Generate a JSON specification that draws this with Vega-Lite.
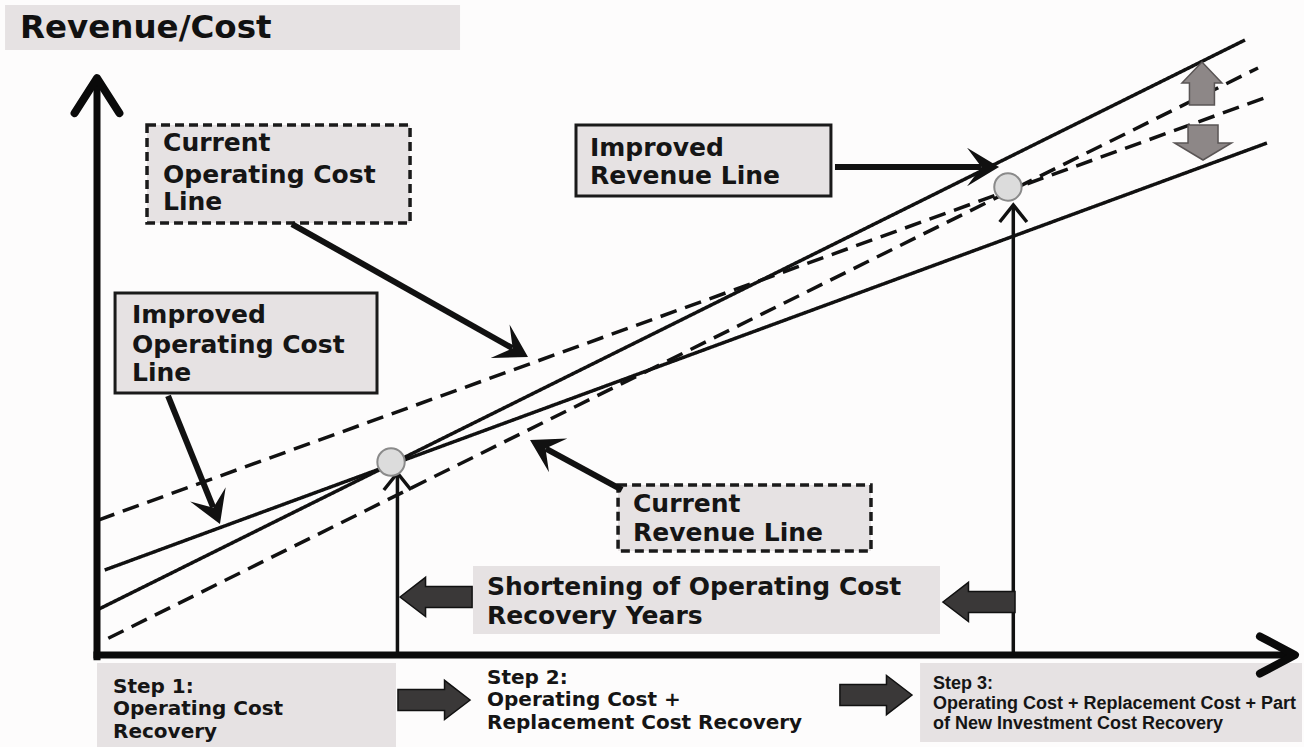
{
  "$schema": "https://vega.github.io/schema/vega-lite/v6.json",
  "width": 1304,
  "height": 747,
  "autosize": {"type": "none"},
  "padding": 0,
  "background": "#fdfcfc",
  "config": {"view": {"stroke": null}},
  "resolve": {"scale": {"shape": "independent", "strokeDash": "independent"}},
  "datasets": {
    "boxes": [
      {"name": "title", "border": "none", "x": -7.74, "x2": 30.56, "y": 114.04, "y2": 106.14},
      {"name": "Current Operating Cost", "border": "dashed", "x": 4.21, "x2": 26.35, "y": 92.98, "y2": 75.79},
      {"name": "Improved Operating Cost", "border": "solid", "x": 1.52, "x2": 23.57, "y": 63.51, "y2": 45.96},
      {"name": "Improved Revenue", "border": "solid", "x": 40.32, "x2": 61.78, "y": 92.98, "y2": 80.53},
      {"name": "Current Revenue", "border": "dashed", "x": 43.86, "x2": 65.15, "y": 29.82, "y2": 18.25},
      {"name": "Shortening", "border": "none", "x": 31.65, "x2": 70.96, "y": 15.61, "y2": 3.68},
      {"name": "Step 1", "border": "none", "x": 0, "x2": 25.17, "y": -1.4, "y2": -16.14},
      {"name": "Step 3", "border": "none", "x": 69.28, "x2": 101.43, "y": -1.4, "y2": -15.26}
    ],
    "lines": [
      {"series": "Current Operating Cost", "status": "Current", "x": 0.11, "y": 23.68},
      {"series": "Current Operating Cost", "status": "Current", "x": 98.48, "y": 97.89},
      {"series": "Improved Operating Cost", "status": "Improved", "x": 0.65, "y": 14.91},
      {"series": "Improved Operating Cost", "status": "Improved", "x": 98.48, "y": 89.82},
      {"series": "Improved Revenue", "status": "Improved", "x": 0, "y": 7.89},
      {"series": "Improved Revenue", "status": "Improved", "x": 96.63, "y": 107.89},
      {"series": "Current Revenue", "status": "Current", "x": 0.95, "y": 2.93},
      {"series": "Current Revenue", "status": "Current", "x": 97.73, "y": 102.98}
    ],
    "axes": [
      {"axis": "y", "x": 0, "y": -0.9, "x2": 0, "y2": 101.2},
      {"axis": "x", "x": -0.3, "y": 0, "x2": 100.84, "y2": 0}
    ],
    "axisTips": [
      {"dir": "up", "x": 0, "y": 101.2},
      {"dir": "right", "x": 100.84, "y": 0}
    ],
    "verticals": [
      {"step": "Operating Cost Recovery", "x": 25.29, "y": 0, "y2": 31.93},
      {"step": "New Investment Recovery", "x": 77.13, "y": 0, "y2": 78.95}
    ],
    "points": [
      {"step": "Operating Cost Recovery", "x": 24.75, "y": 33.86},
      {"step": "New Investment Recovery", "x": 76.68, "y": 82.11}
    ],
    "pointers": [
      {"id": "cur_cost", "x": 16.41, "y": 75.61, "x2": 34.96, "y2": 53.82, "hx": 36.28, "hy": 52.28},
      {"id": "imp_cost", "x": 5.98, "y": 45.44, "x2": 9.78, "y2": 25.91, "hx": 10.35, "hy": 22.98},
      {"id": "imp_rev", "x": 62.12, "y": 85.61, "x2": 74.41, "y2": 85.61, "hx": 75.93, "hy": 85.61},
      {"id": "cur_rev", "x": 44.19, "y": 28.95, "x2": 37.78, "y2": 36.21, "hx": 36.45, "hy": 37.72}
    ],
    "blocks": [
      {"dir": "left", "x": 28.54, "y": 10.18},
      {"dir": "left", "x": 74.24, "y": 9.3},
      {"dir": "right", "x": 28.37, "y": -7.89},
      {"dir": "right", "x": 65.57, "y": -7.02}
    ],
    "gaps": [
      {"dir": "up", "x": 93.01, "y": 100.26},
      {"dir": "down", "x": 93.1, "y": 89.91}
    ],
    "title": [
      {"t": "Revenue/Cost", "x": -6.48, "y": 110.0}
    ],
    "labels": [
      {"t": "Current", "x": 5.56, "y": 89.82},
      {"t": "Operating Cost", "x": 5.56, "y": 84.21},
      {"t": "Line", "x": 5.56, "y": 79.47},
      {"t": "Improved", "x": 2.95, "y": 59.65},
      {"t": "Operating Cost", "x": 2.95, "y": 54.39},
      {"t": "Line", "x": 2.95, "y": 49.47},
      {"t": "Improved", "x": 41.5, "y": 88.95},
      {"t": "Revenue Line", "x": 41.5, "y": 84.04},
      {"t": "Current", "x": 45.12, "y": 26.49},
      {"t": "Revenue Line", "x": 45.12, "y": 21.4},
      {"t": "Shortening of Operating Cost", "x": 32.83, "y": 11.93},
      {"t": "Recovery Years", "x": 32.83, "y": 6.84}
    ],
    "steps": [
      {"t": "Step 1:", "x": 1.35, "y": -5.61},
      {"t": "Operating Cost", "x": 1.35, "y": -9.47},
      {"t": "Recovery", "x": 1.35, "y": -13.51},
      {"t": "Step 2:", "x": 32.83, "y": -4.04},
      {"t": "Operating Cost +", "x": 32.83, "y": -7.98},
      {"t": "Replacement Cost Recovery", "x": 32.83, "y": -11.93}
    ],
    "step3": [
      {"t": "Step 3:", "x": 70.37, "y": -5.09},
      {"t": "Operating Cost + Replacement Cost + Part", "x": 70.37, "y": -8.6},
      {"t": "of New Investment Cost Recovery", "x": 70.37, "y": -12.11}
    ]
  },
  "encoding": {
    "x": {"field": "x", "type": "quantitative", "scale": {"domain": [-8.165, 101.6], "nice": false, "zero": false}, "axis": null},
    "y": {"field": "y", "type": "quantitative", "scale": {"domain": [-16.14, 114.91], "nice": false, "zero": false}, "axis": null}
  },
  "layer": [
    {
      "data": {"name": "boxes"},
      "mark": {"type": "rect", "fill": "#e6e2e3", "stroke": null},
      "encoding": {"x2": {"field": "x2"}, "y2": {"field": "y2"}}
    },
    {
      "data": {"name": "boxes"},
      "transform": [{"filter": "datum.border === 'solid'"}],
      "mark": {"type": "rect", "fill": null, "fillOpacity": 0, "stroke": "#1a1a1a", "strokeWidth": 3},
      "encoding": {"x2": {"field": "x2"}, "y2": {"field": "y2"}}
    },
    {
      "data": {"name": "boxes"},
      "transform": [{"filter": "datum.border === 'dashed'"}],
      "mark": {"type": "rect", "fill": null, "fillOpacity": 0, "stroke": "#1a1a1a", "strokeWidth": 3.5, "strokeDash": [9, 5]},
      "encoding": {"x2": {"field": "x2"}, "y2": {"field": "y2"}}
    },
    {
      "data": {"name": "lines"},
      "mark": {"type": "line", "color": "#111111", "strokeWidth": 3.5},
      "encoding": {
        "detail": {"field": "series"},
        "strokeDash": {"field": "status", "type": "nominal", "scale": {"domain": ["Current", "Improved"], "range": [[17, 9], [1, 0]]}, "legend": null}
      }
    },
    {
      "data": {"name": "verticals"},
      "mark": {"type": "rule", "color": "#111111", "strokeWidth": 3.5},
      "encoding": {"y2": {"field": "y2"}}
    },
    {
      "data": {"name": "verticals"},
      "mark": {"type": "point", "shape": "M-0.8,1 L0,0 L0.8,1", "filled": false, "stroke": "#111111", "strokeWidth": 3.5, "size": 1156, "opacity": 1},
      "encoding": {"y": {"field": "y2", "type": "quantitative"}}
    },
    {
      "data": {"name": "axes"},
      "mark": {"type": "rule", "color": "#0a0a0a", "strokeWidth": 7},
      "encoding": {"x2": {"field": "x2"}, "y2": {"field": "y2"}}
    },
    {
      "data": {"name": "axisTips"},
      "mark": {"type": "point", "filled": false, "stroke": "#0a0a0a", "strokeWidth": 8, "opacity": 1, "size": 4900, "strokeJoin": "round", "strokeCap": "round"},
      "encoding": {
        "shape": {"field": "dir", "type": "nominal", "scale": {"domain": ["up", "right"], "range": ["M-0.64,1 L0,0 L0.64,1", "M-1,-0.53 L0,0 L-1,0.53"]}, "legend": null}
      }
    },
    {
      "data": {"name": "pointers"},
      "mark": {"type": "rule", "color": "#111111", "strokeWidth": 6},
      "encoding": {"x2": {"field": "x2"}, "y2": {"field": "y2"}}
    },
    {
      "data": {"name": "pointers"},
      "transform": [{"filter": "datum.id === 'cur_cost'"}],
      "mark": {"type": "point", "shape": "M0,0 L-1,-0.6 L-0.55,0 L-1,0.6 Z", "filled": true, "color": "#111111", "opacity": 1, "size": 4096, "angle": 29.4},
      "encoding": {"x": {"field": "hx", "type": "quantitative"}, "y": {"field": "hy", "type": "quantitative"}}
    },
    {
      "data": {"name": "pointers"},
      "transform": [{"filter": "datum.id === 'imp_cost'"}],
      "mark": {"type": "point", "shape": "M0,0 L-1,-0.6 L-0.55,0 L-1,0.6 Z", "filled": true, "color": "#111111", "opacity": 1, "size": 4096, "angle": 67.9},
      "encoding": {"x": {"field": "hx", "type": "quantitative"}, "y": {"field": "hy", "type": "quantitative"}}
    },
    {
      "data": {"name": "pointers"},
      "transform": [{"filter": "datum.id === 'imp_rev'"}],
      "mark": {"type": "point", "shape": "M0,0 L-1,-0.6 L-0.55,0 L-1,0.6 Z", "filled": true, "color": "#111111", "opacity": 1, "size": 4096, "angle": 0},
      "encoding": {"x": {"field": "hx", "type": "quantitative"}, "y": {"field": "hy", "type": "quantitative"}}
    },
    {
      "data": {"name": "pointers"},
      "transform": [{"filter": "datum.id === 'cur_rev'"}],
      "mark": {"type": "point", "shape": "M0,0 L-1,-0.6 L-0.55,0 L-1,0.6 Z", "filled": true, "color": "#111111", "opacity": 1, "size": 4096, "angle": 208.5},
      "encoding": {"x": {"field": "hx", "type": "quantitative"}, "y": {"field": "hy", "type": "quantitative"}}
    },
    {
      "data": {"name": "blocks"},
      "mark": {"type": "point", "filled": true, "fill": "#3a3838", "stroke": "#111111", "strokeWidth": 1.5, "opacity": 1, "size": 4900},
      "encoding": {
        "shape": {"field": "dir", "type": "nominal", "scale": {"domain": ["left", "right"], "range": ["M-1.03,0 L-0.3,-0.56 L-0.3,-0.3 L1.03,-0.3 L1.03,0.3 L-0.3,0.3 L-0.3,0.56 Z", "M1.03,0 L0.3,-0.56 L0.3,-0.3 L-1.03,-0.3 L-1.03,0.3 L0.3,0.3 L0.3,0.56 Z"]}, "legend": null}
      }
    },
    {
      "data": {"name": "gaps"},
      "mark": {"type": "point", "filled": true, "fill": "#8d8787", "stroke": "#5a5555", "strokeWidth": 1.5, "opacity": 1, "size": 1600},
      "encoding": {
        "shape": {"field": "dir", "type": "nominal", "scale": {"domain": ["up", "down"], "range": ["M0,-1.075 L1,-0.025 L0.625,-0.025 L0.625,1.075 L-0.625,1.075 L-0.625,-0.025 L-1,-0.025 Z", "M0,0.875 L1.425,0.025 L0.75,0.025 L0.75,-0.875 L-0.75,-0.875 L-0.75,0.025 L-1.425,0.025 Z"]}, "legend": null}
      }
    },
    {
      "data": {"name": "points"},
      "mark": {"type": "point", "shape": "circle", "filled": true, "fill": "#dcdcdc", "stroke": "#8a8a8a", "strokeWidth": 2, "opacity": 1, "size": 750}
    },
    {
      "data": {"name": "title"},
      "mark": {"type": "text", "align": "left", "baseline": "middle", "font": "DejaVu Sans", "fontWeight": "bold", "fontSize": 32.5, "color": "#111111"},
      "encoding": {"text": {"field": "t"}}
    },
    {
      "data": {"name": "labels"},
      "mark": {"type": "text", "align": "left", "baseline": "middle", "font": "DejaVu Sans", "fontWeight": "bold", "fontSize": 25, "color": "#151515"},
      "encoding": {"text": {"field": "t"}}
    },
    {
      "data": {"name": "steps"},
      "mark": {"type": "text", "align": "left", "baseline": "middle", "font": "DejaVu Sans", "fontWeight": "bold", "fontSize": 20, "color": "#151515"},
      "encoding": {"text": {"field": "t"}}
    },
    {
      "data": {"name": "step3"},
      "mark": {"type": "text", "align": "left", "baseline": "middle", "font": "Liberation Sans", "fontWeight": "bold", "fontSize": 18, "color": "#151515"},
      "encoding": {"text": {"field": "t"}}
    }
  ]
}
